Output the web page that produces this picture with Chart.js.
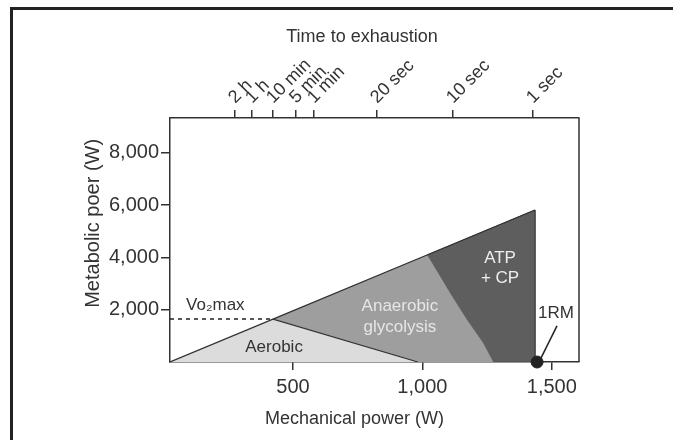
<!DOCTYPE html>
<html>
<head>
<meta charset="utf-8">
<script src="https://cdn.jsdelivr.net/npm/chart.js@4/dist/chart.umd.min.js"></script>
<style>
    html, body { margin: 0; padding: 0; background: #fff; }
    #wrap { position: relative; width: 673px; height: 440px; }
    #frame {
        position: absolute; left: 10px; top: 7px; right: 0; bottom: 0;
        border-top: 3px solid #222; border-left: 3px solid #222;
        pointer-events: none;
    }
</style>
</head>
<body>
<div id="wrap">
    <canvas id="ChartCanvas" width="673" height="440"></canvas>
    <div id="frame"></div>
</div>
<script>
// axis ticks
var powerTicks = [500, 1000, 1500];
var powerTickLabels = ['500', '1,000', '1,500'];
var metabolicTicks = [2000, 4000, 6000, 8000];
var metabolicTickLabels = ['2,000', '4,000', '6,000', '8,000'];
var timeTickValues = [276, 342, 423, 512, 581, 825, 1118, 1427];
var timeTickLabels = ['2 h', '1 h', '10 min', '5 min', '1 min', '20 sec', '10 sec', '1 sec'];

// energy system regions (mechanical power W, metabolic power W)
var aerobicX = [25, 423, 983, 25];
var aerobicY = [0, 1640, 0, 0];
var anaerobicX = [423, 1018, 1106, 1172, 1234, 1273, 983, 423];
var anaerobicY = [1640, 4090, 2639, 1606, 727, 0, 0, 1640];
var atpX = [1018, 1435, 1435, 1273, 1234, 1172, 1106, 1018];
var atpY = [4090, 5810, 0, 0, 727, 1606, 2639, 4090];
var outlineX = [25, 423, 1018, 1435];
var outlineY = [0, 1640, 4090, 5810];
var boundaryX = [423, 983];
var boundaryY = [1640, 0];
var vo2maxX = [25, 423];
var vo2maxY = [1640, 1640];
var oneRmX = [1443];
var oneRmY = [0];
var leaderX = [1520, 1458];
var leaderY = [1380, 150];

// text labels placed in data coordinates
var regionLabels = [
    { text: 'Vo\u2082max', x: 87, y: 2180, color: '#333', align: 'left' },
    { text: 'Aerobic', x: 427, y: 574, color: '#333', align: 'center' },
    { text: 'Anaerobic', x: 913, y: 2141, color: '#e6e6e6', align: 'center' },
    { text: 'glycolysis', x: 913, y: 1338, color: '#e6e6e6', align: 'center' },
    { text: 'ATP', x: 1300, y: 3977, color: '#eeeeee', align: 'center' },
    { text: '+ CP', x: 1300, y: 3212, color: '#eeeeee', align: 'center' },
    { text: '1RM', x: 1516, y: 1874, color: '#333', align: 'center' }
];

var X_MIN = 25, X_MAX = 1605, Y_MIN = 0, Y_MAX = 9330;
var FONT = "'Liberation Sans', Arial, sans-serif";
var INK = '#333';
var NB = '\u00a0';

function zip(xs, ys) {
    return xs.map(function (x, i) { return { x: x, y: ys[i] }; });
}

// right border of the plot box + text labels
var extrasPlugin = {
    id: 'extras',
    afterDatasetsDraw: function (chart) {
        var ctx = chart.ctx;
        var area = chart.chartArea;
        var xs = chart.scales.x, ys = chart.scales.y;
        ctx.save();
        ctx.strokeStyle = INK;
        ctx.lineWidth = 1.5;
        ctx.beginPath();
        ctx.moveTo(area.right, area.top);
        ctx.lineTo(area.right, area.bottom);
        ctx.stroke();

        ctx.font = '17px ' + FONT;
        ctx.textBaseline = 'middle';
        regionLabels.forEach(function (l) {
            ctx.fillStyle = l.color;
            ctx.textAlign = l.align;
            ctx.fillText(l.text, xs.getPixelForValue(l.x), ys.getPixelForValue(l.y));
        });
        ctx.restore();
    }
};

var chartContext = document.getElementById('ChartCanvas').getContext('2d');

var config = {
    type: 'line',
    data: {
        datasets: [
            {
                data: zip(oneRmX, oneRmY),
                showLine: false,
                pointRadius: 6,
                pointBackgroundColor: '#222',
                pointBorderColor: '#222',
                clip: false
            },
            { data: zip(leaderX, leaderY), borderColor: '#222', borderWidth: 1.5 },
            { data: zip(vo2maxX, vo2maxY), borderColor: '#222', borderWidth: 1.5, borderDash: [4, 4] },
            { data: zip(outlineX, outlineY), borderColor: '#333', borderWidth: 1.2 },
            { data: zip(boundaryX, boundaryY), borderColor: '#333', borderWidth: 1.2 },
            { data: zip(aerobicX, aerobicY), fill: 'shape', backgroundColor: '#dcdcdc', borderColor: '#dcdcdc', borderWidth: 0.5 },
            { data: zip(anaerobicX, anaerobicY), fill: 'shape', backgroundColor: '#9e9e9e', borderColor: '#9e9e9e', borderWidth: 0.5 },
            { data: zip(atpX, atpY), fill: 'shape', backgroundColor: '#5e5e5e', borderColor: '#4a4a4a', borderWidth: 1 }
        ]
    },
    options: {
        responsive: false,
        animation: false,
        layout: { padding: { left: 77, right: 94, top: 22, bottom: 6 } },
        elements: { point: { radius: 0 }, line: { tension: 0 } },
        plugins: { legend: { display: false }, tooltip: { enabled: false } },
        scales: {
            x: {
                type: 'linear',
                position: 'bottom',
                min: X_MIN,
                max: X_MAX,
                afterBuildTicks: function (scale) {
                    scale.ticks = powerTicks.map(function (v) { return { value: v }; });
                },
                afterFit: function (scale) { scale.height = 72; },
                ticks: {
                    color: INK,
                    font: { family: FONT, size: 20 },
                    padding: 5,
                    maxRotation: 0,
                    autoSkip: false,
                    callback: function (value, index) { return powerTickLabels[index]; }
                },
                grid: { drawOnChartArea: false, color: INK, tickLength: 8, lineWidth: 1.5 },
                border: { display: true, color: INK, width: 1.5 },
                title: {
                    display: true,
                    text: 'Mechanical power (W)' + NB.repeat(8),
                    color: INK,
                    font: { family: FONT, size: 18 }
                }
            },
            x2: {
                type: 'linear',
                position: 'top',
                min: X_MIN,
                max: X_MAX,
                afterBuildTicks: function (scale) {
                    scale.ticks = timeTickValues.map(function (v) { return { value: v }; });
                },
                afterFit: function (scale) { scale.height = 96; },
                ticks: {
                    color: INK,
                    font: { family: FONT, size: 18 },
                    padding: 2,
                    labelOffset: 12,
                    minRotation: 45,
                    maxRotation: 45,
                    autoSkip: false,
                    callback: function (value, index) { return timeTickLabels[index]; }
                },
                grid: { drawOnChartArea: false, color: INK, tickLength: 8, lineWidth: 1.5 },
                border: { display: true, color: INK, width: 1.5 },
                title: {
                    display: true,
                    text: 'Time to exhaustion' + NB.repeat(5),
                    color: INK,
                    font: { family: FONT, size: 18 }
                }
            },
            y: {
                type: 'linear',
                position: 'left',
                min: Y_MIN,
                max: Y_MAX,
                afterBuildTicks: function (scale) {
                    scale.ticks = metabolicTicks.map(function (v) { return { value: v }; });
                },
                afterFit: function (scale) { scale.width = 93; },
                ticks: {
                    color: INK,
                    font: { family: FONT, size: 20 },
                    padding: 2,
                    callback: function (value, index) { return metabolicTickLabels[index]; }
                },
                grid: { drawOnChartArea: false, color: INK, tickLength: 9, lineWidth: 1.5 },
                border: { display: true, color: INK, width: 1.5 },
                title: {
                    display: true,
                    text: NB.repeat(6) + 'Metabolic poer (W)',
                    color: INK,
                    font: { family: FONT, size: 20 }
                }
            }
        }
    },
    plugins: [extrasPlugin]
};

var createdChart = new Chart(chartContext, config);
</script>
</body>
</html>
